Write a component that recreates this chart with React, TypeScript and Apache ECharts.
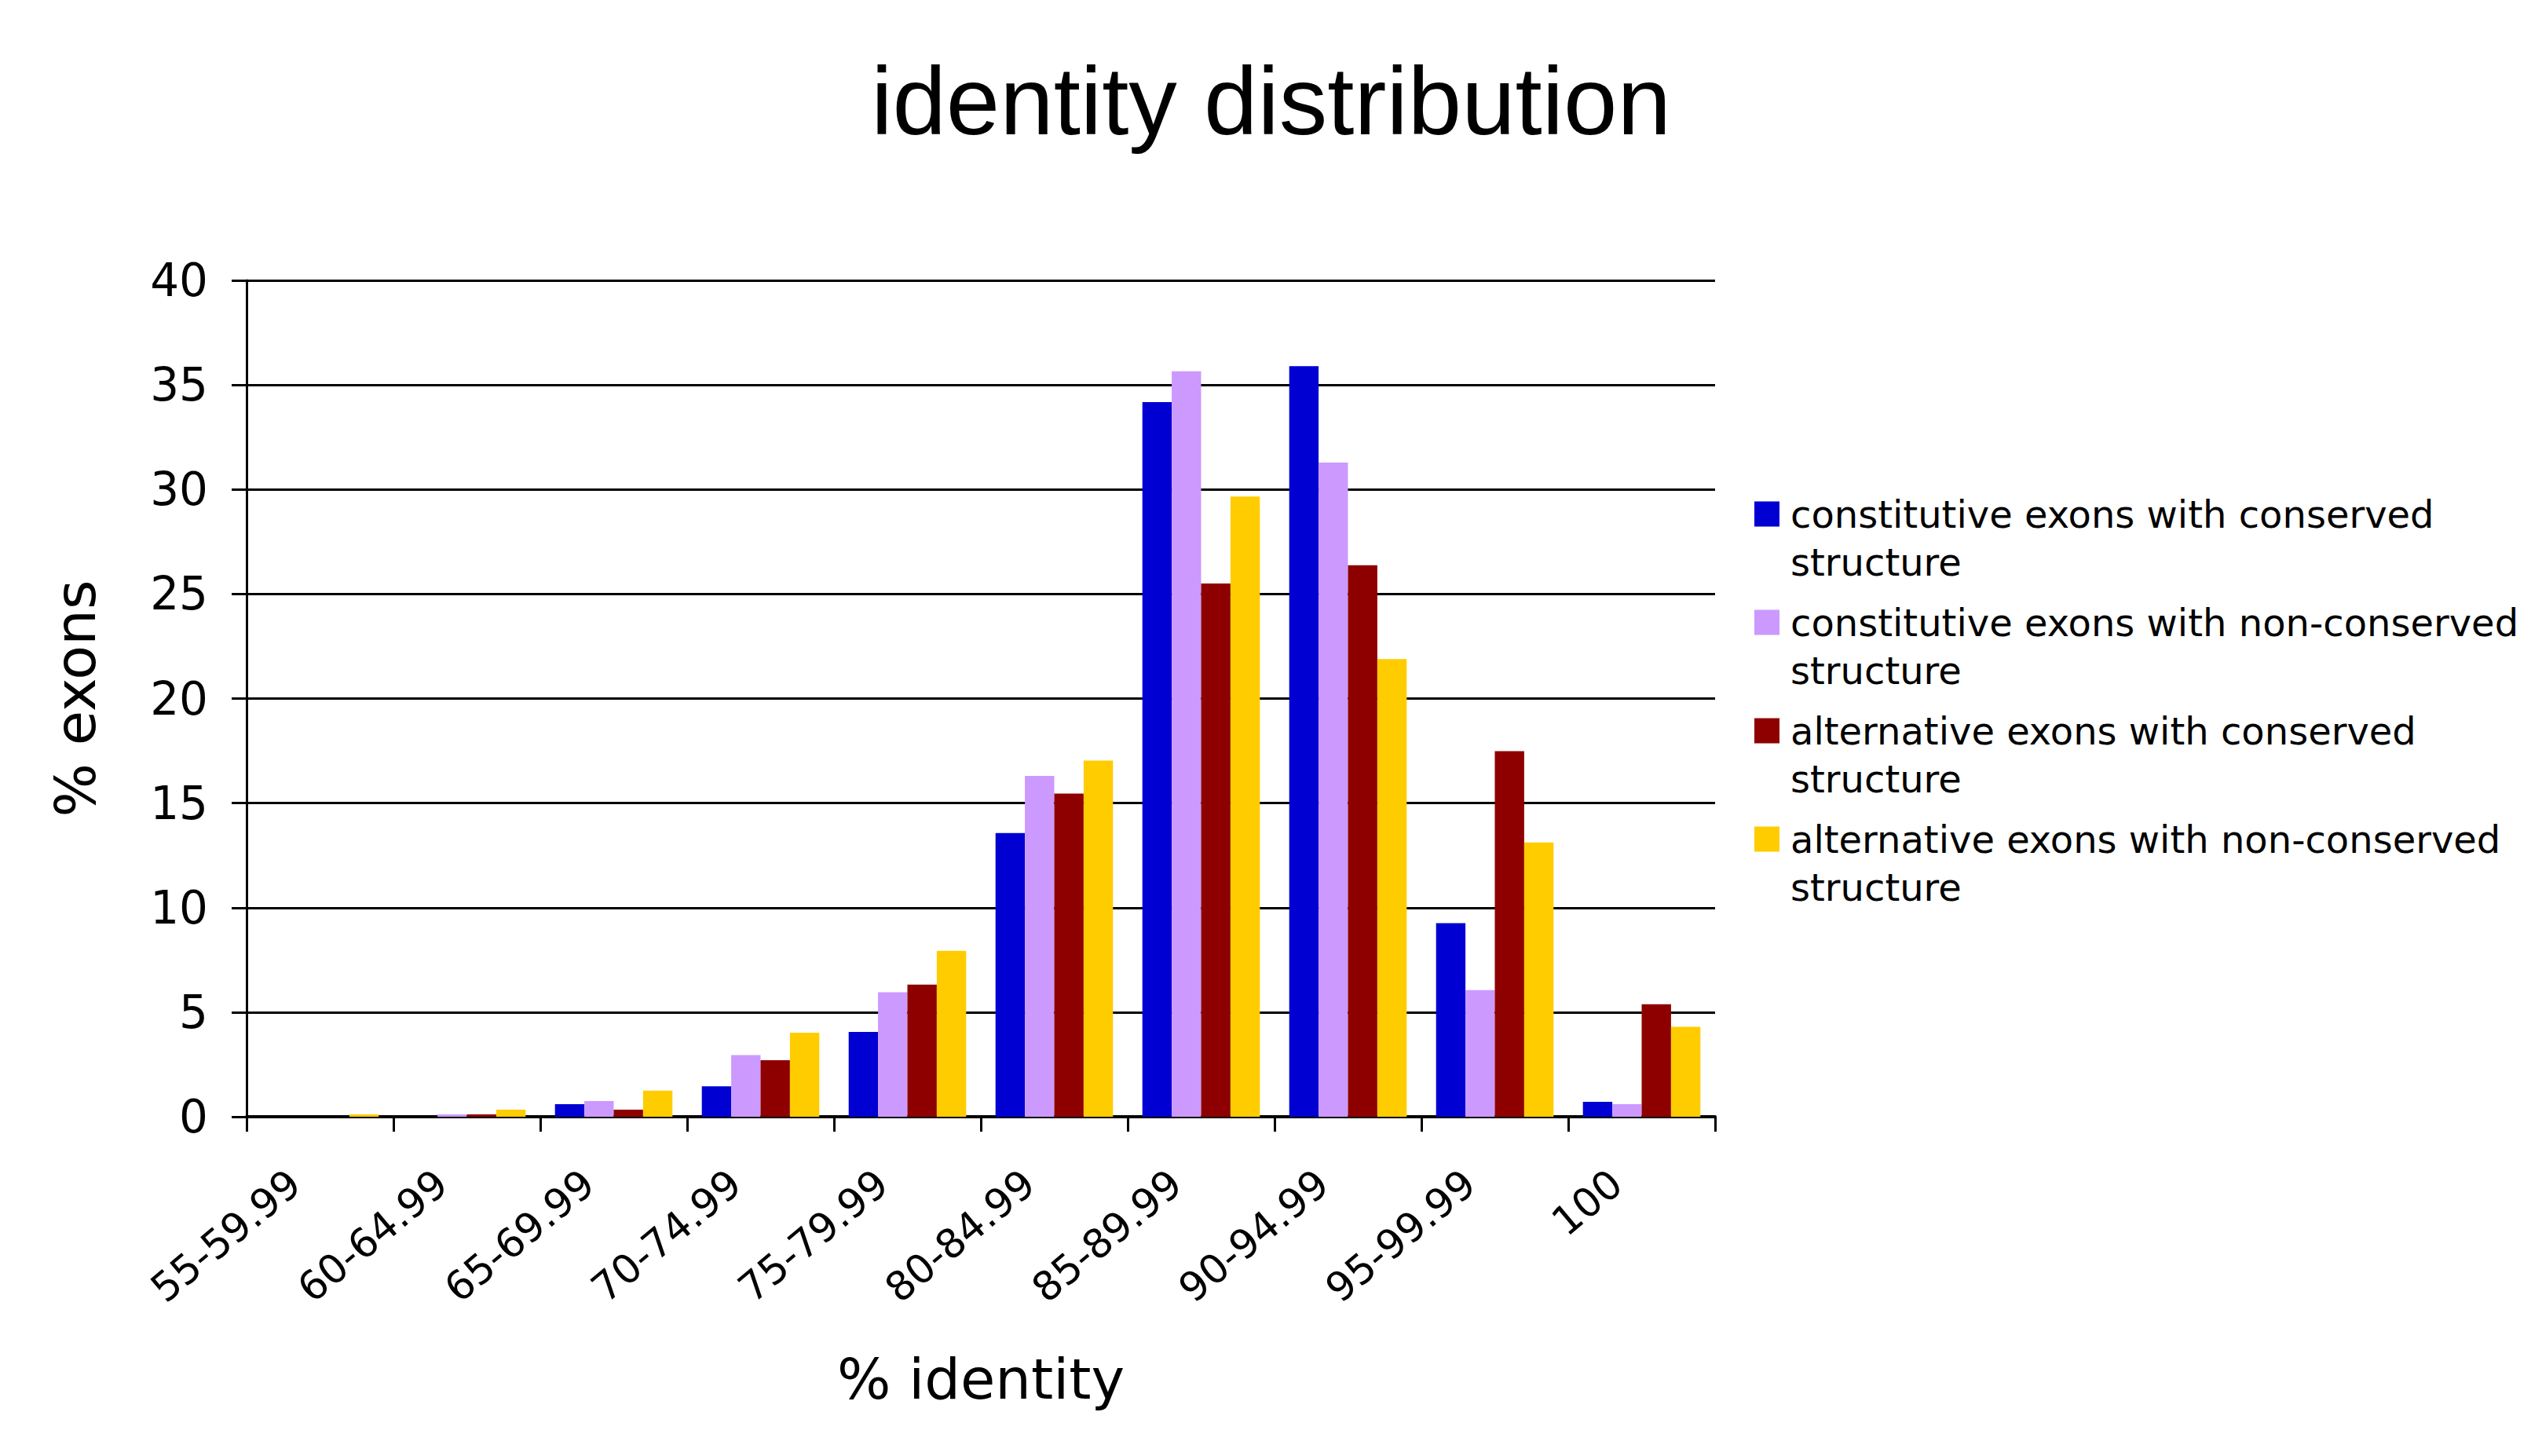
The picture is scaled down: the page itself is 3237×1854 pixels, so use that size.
import React, { useEffect, useRef } from "react";
import * as echarts from "echarts";

const categories = [
  "55-59.99",
  "60-64.99",
  "65-69.99",
  "70-74.99",
  "75-79.99",
  "80-84.99",
  "85-89.99",
  "90-94.99",
  "95-99.99",
  "100",
];

const constitutiveConserved = [0, 0, 0.6, 1.46, 4.06, 13.57, 34.18, 35.9, 9.26, 0.71];
const constitutiveNonConserved = [0, 0.11, 0.75, 2.95, 5.95, 16.3, 35.65, 31.29, 6.06, 0.6];
const alternativeConserved = [0, 0.11, 0.34, 2.7, 6.32, 15.46, 25.5, 26.38, 17.48, 5.38];
const alternativeNonConserved = [0.11, 0.34, 1.25, 4.02, 7.93, 17.03, 29.66, 21.89, 13.12, 4.3];

const seriesNames = [
  "constitutive exons with conserved structure",
  "constitutive exons with non-conserved structure",
  "alternative exons with conserved structure",
  "alternative exons with non-conserved structure",
];
const seriesColors = ["#0000D2", "#CC99FF", "#8E0000", "#FFCC00"];
const seriesValues = [
  constitutiveConserved,
  constitutiveNonConserved,
  alternativeConserved,
  alternativeNonConserved,
];

const yMin = 0;
const yMax = 40;
const yInterval = 5;

const FONT = "'DejaVu Sans', sans-serif";

export default function App() {
  const ref = useRef<HTMLDivElement>(null);

  useEffect(() => {
    if (!ref.current) return;
    const chart = echarts.init(ref.current, null, { renderer: "svg" });
    chart.setOption({
      animation: false,
      backgroundColor: "#ffffff",
      title: {
        text: "identity distribution",
        left: "center",
        top: 67,
        padding: 0,
        textStyle: {
          fontFamily: "'Liberation Sans', Arial, sans-serif",
          fontSize: 123,
          fontWeight: "normal",
          color: "#000",
        },
      },
      legend: {
        orient: "vertical",
        left: 2234,
        top: 563,
        padding: 0,
        itemWidth: 32,
        itemHeight: 32,
        itemGap: -45,
        icon: "rect",
        selectedMode: false,
        data: seriesNames,
        formatter: (name: string) => "\n" + name.replace(" structure", "\nstructure"),
        textStyle: {
          fontFamily: FONT,
          fontSize: 48,
          lineHeight: 61,
          color: "#000",
          padding: [0, 0, 0, 9],
        },
      },
      grid: {
        left: 314,
        right: 1053,
        top: 357,
        bottom: 432,
        containLabel: false,
        outerBoundsMode: "none",
      },
      xAxis: {
        type: "category",
        data: categories,
        boundaryGap: true,
        name: "% identity",
        nameLocation: "middle",
        nameGap: 298,
        nameTextStyle: { fontFamily: FONT, fontSize: 72, color: "#000" },
        axisLine: { show: true, lineStyle: { color: "#000", width: 4 } },
        axisTick: {
          show: true,
          inside: false,
          length: 19,
          alignWithLabel: false,
          interval: 0,
          lineStyle: { color: "#000", width: 3 },
        },
        axisLabel: {
          interval: 0,
          rotate: 40,
          margin: 51,
          padding: [0, 42, 0, 0],
          fontFamily: FONT,
          fontSize: 51,
          color: "#000",
        },
        splitLine: { show: false },
      },
      yAxis: {
        type: "value",
        min: yMin,
        max: yMax,
        interval: yInterval,
        name: "% exons",
        nameLocation: "middle",
        nameGap: 182,
        nameTextStyle: { fontFamily: FONT, fontSize: 72, color: "#000" },
        axisLine: { show: true, lineStyle: { color: "#000", width: 3 } },
        axisTick: {
          show: true,
          inside: false,
          length: 19,
          lineStyle: { color: "#000", width: 3 },
        },
        axisLabel: {
          margin: 49,
          fontFamily: FONT,
          fontSize: 58,
          color: "#000",
        },
        splitLine: { show: true, lineStyle: { color: "#000", width: 3 } },
      },
      series: seriesNames.map((name, i) => ({
        name,
        type: "bar",
        data: seriesValues[i],
        barGap: "0%",
        barCategoryGap: "20%",
        itemStyle: { color: seriesColors[i] },
        emphasis: { disabled: true },
      })),
    });
    return () => chart.dispose();
  }, []);

  return (
    <div
      ref={ref}
      style={{
        position: "fixed",
        left: 0,
        top: 0,
        width: 3237,
        height: 1854,
        background: "#fff",
      }}
    />
  );
}
